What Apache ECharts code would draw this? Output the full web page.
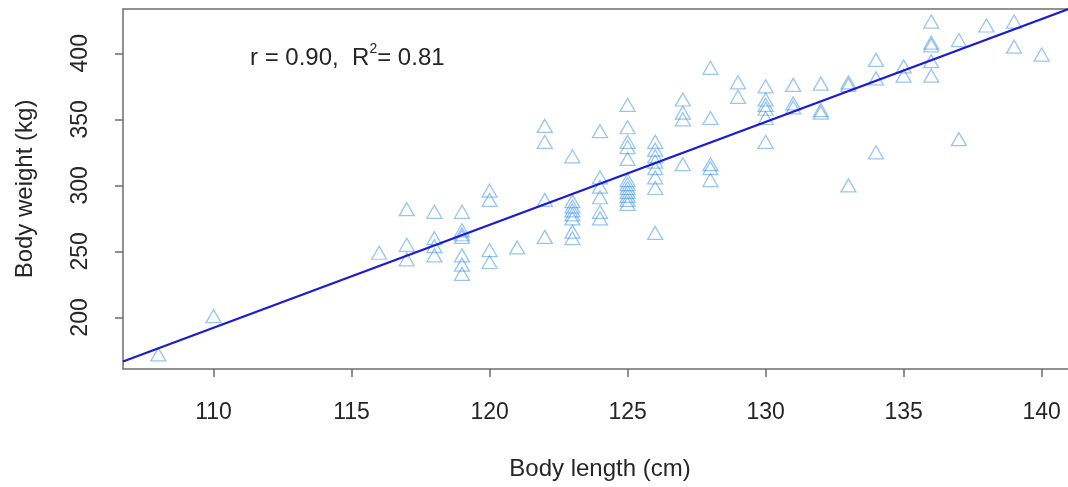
<!DOCTYPE html>
<html>
<head>
<meta charset="utf-8">
<title>Body length vs body weight</title>
<script src="https://cdn.jsdelivr.net/npm/echarts@6/dist/echarts.min.js"></script>
<style>
    html, body { margin: 0; padding: 0; background: #fff; overflow: hidden; }
    /* the original plot is cropped on the right, so the canvas runs a bit past the window */
    #chart { width: 1080px; height: 487px; }
</style>
</head>
<body>
<div id="chart"></div>
<script>
// body length (cm) and body weight (kg), one entry per animal
var bodyLength = [
    108, 110, 116,
    117, 117, 117,
    118, 118, 118, 118,
    119, 119, 119, 119, 119, 119, 119,
    120, 120, 120, 120,
    121,
    122, 122, 122, 122,
    123, 123, 123, 123, 123, 123, 123, 123,
    124, 124, 124, 124, 124, 124,
    125, 125, 125, 125, 125, 125, 125, 125, 125, 125, 125, 125,
    126, 126, 126, 126, 126, 126, 126, 126,
    127, 127, 127, 127,
    128, 128, 128, 128, 128,
    129, 129,
    130, 130, 130, 130, 130, 130,
    131, 131, 131,
    132, 132, 132,
    133, 133, 133,
    134, 134, 134,
    135, 135,
    136, 136, 136, 136, 136,
    137, 137,
    138,
    139, 139,
    140
];
var bodyWeight = [
    172, 201, 249,
    282, 255, 244,
    280, 260, 254, 247,
    280, 266, 263, 261, 247, 240, 233,
    296, 289, 251, 242,
    253,
    345, 333, 289, 261,
    322, 288, 284, 281, 278, 275, 265, 260,
    341, 306, 299, 291, 280, 275,
    361, 344, 333, 329, 320, 304, 301, 298, 295, 292, 289, 286,
    333, 327, 322, 318, 313, 306, 298, 264,
    365, 355, 350, 316,
    389, 351, 316, 313, 304,
    378, 367,
    375, 365, 361, 358, 351, 333,
    376, 362, 359,
    377, 357, 355,
    378, 376, 300,
    395, 381, 325,
    390, 383,
    424, 408, 406, 394, 383,
    410, 335,
    421,
    424, 405,
    399
];

// least squares fit
var fitIntercept = -664.7;
var fitSlope = 7.79;

var xTicks = [110, 115, 120, 125, 130, 135, 140];
var yTicks = [200, 250, 300, 350, 400];
var xRange = [106.72, 141.28];
var yRange = [161, 433.5];

var statR = '0.90';
var statR2 = '0.81';

var font = 'Liberation Sans, Arial, sans-serif';
var textColor = '#262626';

var points = [];
for (var i = 0; i < bodyLength.length; i++) {
    points.push([bodyLength[i], bodyWeight[i]]);
}
var fitLine = xRange.map(function (x) {
    return [x, fitIntercept + fitSlope * x];
});

var myChart = echarts.init(document.getElementById('chart'), null, { renderer: 'canvas' });

var option = {
    backgroundColor: '#fff',
    animation: false,
    textStyle: { fontFamily: font },
    grid: {
        left: 123,
        right: 3,
        top: 9,
        bottom: 118,
        show: true,
        borderColor: '#6e6e6e',
        borderWidth: 1.5,
        backgroundColor: 'transparent'
    },
    xAxis: {
        type: 'value',
        min: xRange[0],
        max: xRange[1],
        name: 'Body length (cm)',
        nameLocation: 'middle',
        nameGap: 88,
        nameTextStyle: { fontSize: 24, color: textColor, fontFamily: font },
        axisLine: { show: false },
        splitLine: { show: false },
        axisTick: {
            show: true,
            length: 8,
            customValues: xTicks,
            lineStyle: { color: '#6e6e6e', width: 1.5 }
        },
        axisLabel: {
            customValues: xTicks,
            margin: 32,
            fontSize: 23,
            color: textColor,
            fontFamily: font
        }
    },
    yAxis: {
        type: 'value',
        min: yRange[0],
        max: yRange[1],
        name: 'Body weight (kg)',
        nameLocation: 'middle',
        nameRotate: 90,
        nameGap: 86,
        nameTextStyle: { fontSize: 24, color: textColor, fontFamily: font },
        axisLine: { show: false },
        splitLine: { show: false },
        axisTick: {
            show: true,
            length: 8,
            customValues: yTicks,
            lineStyle: { color: '#6e6e6e', width: 1.5 }
        },
        axisLabel: {
            customValues: yTicks,
            rotate: 90,
            margin: 31,
            fontSize: 23,
            color: textColor,
            fontFamily: font
        }
    },
    graphic: [{
        type: 'text',
        left: 250,
        top: 42,
        style: {
            text: '{a|r = ' + statR + ',  R}{s|2}{a|= ' + statR2 + '}',
            rich: {
                a: { fontSize: 24, fontFamily: font, fill: textColor, verticalAlign: 'bottom', lineHeight: 28 },
                s: { fontSize: 14, fontFamily: font, fill: textColor, verticalAlign: 'top', lineHeight: 28 }
            }
        }
    }],
    series: [
        {
            name: 'animals',
            type: 'scatter',
            data: points,
            symbol: 'triangle',
            symbolSize: [15, 13],
            itemStyle: {
                color: 'rgba(255,255,255,0)',
                borderColor: 'rgba(40,135,225,0.6)',
                borderWidth: 1.3
            },
            z: 2
        },
        {
            name: 'fit',
            type: 'line',
            data: fitLine,
            symbol: 'none',
            clip: true,
            lineStyle: { color: '#1a1ad8', width: 2.2 },
            z: 3
        }
    ]
};

myChart.setOption(option);
</script>
</body>
</html>
